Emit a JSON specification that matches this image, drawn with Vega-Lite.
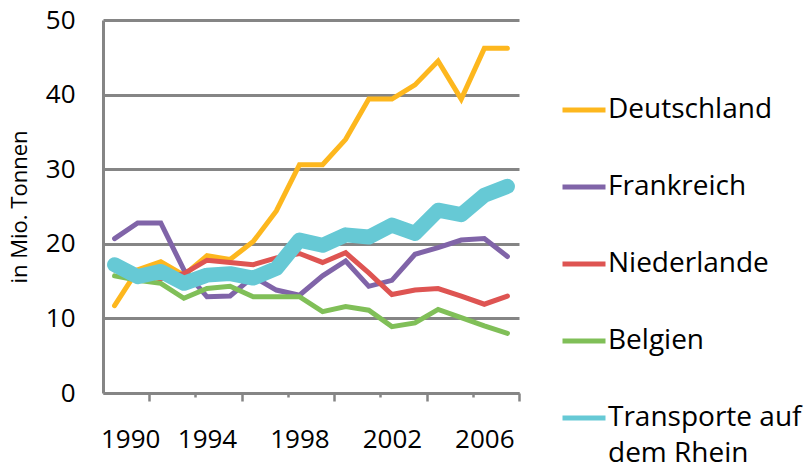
{
  "$schema": "https://vega.github.io/schema/vega-lite/v6.json",
  "width": 416,
  "height": 373,
  "autosize": {"type": "none"},
  "padding": {"left": 103, "top": 20, "right": 288, "bottom": 78},
  "background": "white",
  "config": {"view": {"stroke": null}, "font": "Open Sans", "style": {"guide-label": {"lineHeight": 36}}},
  "datasets": {
    "d": [
      {"year": 1990, "series": "Deutschland", "value": 11.7},
      {"year": 1991, "series": "Deutschland", "value": 16.5},
      {"year": 1992, "series": "Deutschland", "value": 17.6},
      {"year": 1993, "series": "Deutschland", "value": 15.8},
      {"year": 1994, "series": "Deutschland", "value": 18.4},
      {"year": 1995, "series": "Deutschland", "value": 17.9},
      {"year": 1996, "series": "Deutschland", "value": 20.3},
      {"year": 1997, "series": "Deutschland", "value": 24.4},
      {"year": 1998, "series": "Deutschland", "value": 30.6},
      {"year": 1999, "series": "Deutschland", "value": 30.6},
      {"year": 2000, "series": "Deutschland", "value": 34.0},
      {"year": 2001, "series": "Deutschland", "value": 39.4},
      {"year": 2002, "series": "Deutschland", "value": 39.4},
      {"year": 2003, "series": "Deutschland", "value": 41.3},
      {"year": 2004, "series": "Deutschland", "value": 44.5},
      {"year": 2005, "series": "Deutschland", "value": 39.4},
      {"year": 2006, "series": "Deutschland", "value": 46.2},
      {"year": 2007, "series": "Deutschland", "value": 46.2},
      {"year": 1990, "series": "Frankreich", "value": 20.7},
      {"year": 1991, "series": "Frankreich", "value": 22.8},
      {"year": 1992, "series": "Frankreich", "value": 22.8},
      {"year": 1993, "series": "Frankreich", "value": 16.5},
      {"year": 1994, "series": "Frankreich", "value": 12.9},
      {"year": 1995, "series": "Frankreich", "value": 13.0},
      {"year": 1996, "series": "Frankreich", "value": 15.6},
      {"year": 1997, "series": "Frankreich", "value": 13.8},
      {"year": 1998, "series": "Frankreich", "value": 13.1},
      {"year": 1999, "series": "Frankreich", "value": 15.7},
      {"year": 2000, "series": "Frankreich", "value": 17.7},
      {"year": 2001, "series": "Frankreich", "value": 14.3},
      {"year": 2002, "series": "Frankreich", "value": 15.1},
      {"year": 2003, "series": "Frankreich", "value": 18.6},
      {"year": 2004, "series": "Frankreich", "value": 19.5},
      {"year": 2005, "series": "Frankreich", "value": 20.5},
      {"year": 2006, "series": "Frankreich", "value": 20.7},
      {"year": 2007, "series": "Frankreich", "value": 18.3},
      {"year": 1990, "series": "Niederlande", "value": 16.5},
      {"year": 1991, "series": "Niederlande", "value": 16.0},
      {"year": 1992, "series": "Niederlande", "value": 15.3},
      {"year": 1993, "series": "Niederlande", "value": 16.0},
      {"year": 1994, "series": "Niederlande", "value": 17.8},
      {"year": 1995, "series": "Niederlande", "value": 17.5},
      {"year": 1996, "series": "Niederlande", "value": 17.2},
      {"year": 1997, "series": "Niederlande", "value": 18.1},
      {"year": 1998, "series": "Niederlande", "value": 18.7},
      {"year": 1999, "series": "Niederlande", "value": 17.5},
      {"year": 2000, "series": "Niederlande", "value": 18.8},
      {"year": 2001, "series": "Niederlande", "value": 16.1},
      {"year": 2002, "series": "Niederlande", "value": 13.2},
      {"year": 2003, "series": "Niederlande", "value": 13.8},
      {"year": 2004, "series": "Niederlande", "value": 14.0},
      {"year": 2005, "series": "Niederlande", "value": 13.0},
      {"year": 2006, "series": "Niederlande", "value": 11.9},
      {"year": 2007, "series": "Niederlande", "value": 13.0},
      {"year": 1990, "series": "Belgien", "value": 15.7},
      {"year": 1991, "series": "Belgien", "value": 15.1},
      {"year": 1992, "series": "Belgien", "value": 14.7},
      {"year": 1993, "series": "Belgien", "value": 12.7},
      {"year": 1994, "series": "Belgien", "value": 14.0},
      {"year": 1995, "series": "Belgien", "value": 14.3},
      {"year": 1996, "series": "Belgien", "value": 12.9},
      {"year": 1997, "series": "Belgien", "value": 12.9},
      {"year": 1998, "series": "Belgien", "value": 12.9},
      {"year": 1999, "series": "Belgien", "value": 10.9},
      {"year": 2000, "series": "Belgien", "value": 11.6},
      {"year": 2001, "series": "Belgien", "value": 11.1},
      {"year": 2002, "series": "Belgien", "value": 8.9},
      {"year": 2003, "series": "Belgien", "value": 9.4},
      {"year": 2004, "series": "Belgien", "value": 11.2},
      {"year": 2005, "series": "Belgien", "value": 10.1},
      {"year": 2006, "series": "Belgien", "value": 9.0},
      {"year": 2007, "series": "Belgien", "value": 8.0},
      {"year": 1990, "series": "Transporte auf dem Rhein", "value": 17.2},
      {"year": 1991, "series": "Transporte auf dem Rhein", "value": 15.6},
      {"year": 1992, "series": "Transporte auf dem Rhein", "value": 16.3},
      {"year": 1993, "series": "Transporte auf dem Rhein", "value": 14.7},
      {"year": 1994, "series": "Transporte auf dem Rhein", "value": 15.8},
      {"year": 1995, "series": "Transporte auf dem Rhein", "value": 16.0},
      {"year": 1996, "series": "Transporte auf dem Rhein", "value": 15.4},
      {"year": 1997, "series": "Transporte auf dem Rhein", "value": 16.7},
      {"year": 1998, "series": "Transporte auf dem Rhein", "value": 20.5},
      {"year": 1999, "series": "Transporte auf dem Rhein", "value": 19.8},
      {"year": 2000, "series": "Transporte auf dem Rhein", "value": 21.2},
      {"year": 2001, "series": "Transporte auf dem Rhein", "value": 20.9},
      {"year": 2002, "series": "Transporte auf dem Rhein", "value": 22.5},
      {"year": 2003, "series": "Transporte auf dem Rhein", "value": 21.4},
      {"year": 2004, "series": "Transporte auf dem Rhein", "value": 24.5},
      {"year": 2005, "series": "Transporte auf dem Rhein", "value": 23.9},
      {"year": 2006, "series": "Transporte auf dem Rhein", "value": 26.5},
      {"year": 2007, "series": "Transporte auf dem Rhein", "value": 27.7}
    ]
  },
  "data": {"name": "d"},
  "encoding": {
    "x": {
      "field": "year",
      "type": "quantitative",
      "scale": {"domain": [1989.5, 2007.5], "nice": false, "zero": false},
      "axis": {
        "title": null,
        "grid": false,
        "values": [1991.5, 1993.5, 1995.5, 1997.5, 1999.5, 2001.5, 2003.5, 2005.5, 2007.5],
        "domainColor": "#858585",
        "domainWidth": 3,
        "tickColor": "#858585",
        "tickWidth": 2.5,
        "tickSize": {"condition": {"test": "datum.value % 4 == 3.5", "value": 8}, "value": 4},
        "labelExpr": "datum.value % 4 == 3.5 ? format(datum.value - 1.5, 'd') : ''",
        "labelOffset": {"condition": {"test": "datum.value == 1991.5", "value": -19}, "value": -34.67},
        "labelFlush": false,
        "labelOverlap": false,
        "labelFontSize": 26,
        "labelColor": "black",
        "labelPadding": 25,
        "labelBaseline": "top"
      }
    },
    "y": {
      "field": "value",
      "type": "quantitative",
      "scale": {"domain": [0, 50], "nice": false},
      "axis": {
        "values": [0, 10, 20, 30, 40, 50],
        "title": "in Mio. Tonnen",
        "titleFontSize": 22,
        "titleFontWeight": "normal",
        "titleColor": "black",
        "titlePadding": 14,
        "grid": true,
        "gridColor": "#858585",
        "gridWidth": 3,
        "domainColor": "#858585",
        "domainWidth": 3,
        "ticks": false,
        "labelPadding": 28,
        "labelFontSize": 26,
        "labelColor": "black"
      }
    },
    "color": {
      "field": "series",
      "type": "nominal",
      "scale": {
        "domain": ["Deutschland", "Frankreich", "Niederlande", "Belgien", "Transporte auf dem Rhein"],
        "range": ["#FDB71E", "#8064A8", "#DE5452", "#80BF58", "#66C9D5"]
      },
      "legend": {
        "title": null,
        "orient": "none",
        "legendX": 457,
        "legendY": 66,
        "symbolType": "stroke",
        "symbolSize": 1849,
        "symbolStrokeWidth": 5,
        "labelFontSize": 28,
        "labelColor": "black",
        "labelOffset": 0,
        "rowPadding": 39,
        "labelLimit": 400,
        "labelBaseline": "middle",
        "labelExpr": "datum.value == 'Transporte auf dem Rhein' ? ['Transporte auf', 'dem Rhein'] : datum.label"
      }
    }
  },
  "layer": [
    {
      "transform": [{"filter": "datum.series != 'Transporte auf dem Rhein'"}],
      "mark": {"type": "line", "strokeWidth": 5, "strokeCap": "round"}
    },
    {
      "transform": [{"filter": "datum.series == 'Transporte auf dem Rhein'"}],
      "mark": {"type": "line", "strokeWidth": 15, "strokeCap": "round", "strokeJoin": "round"}
    }
  ]
}
